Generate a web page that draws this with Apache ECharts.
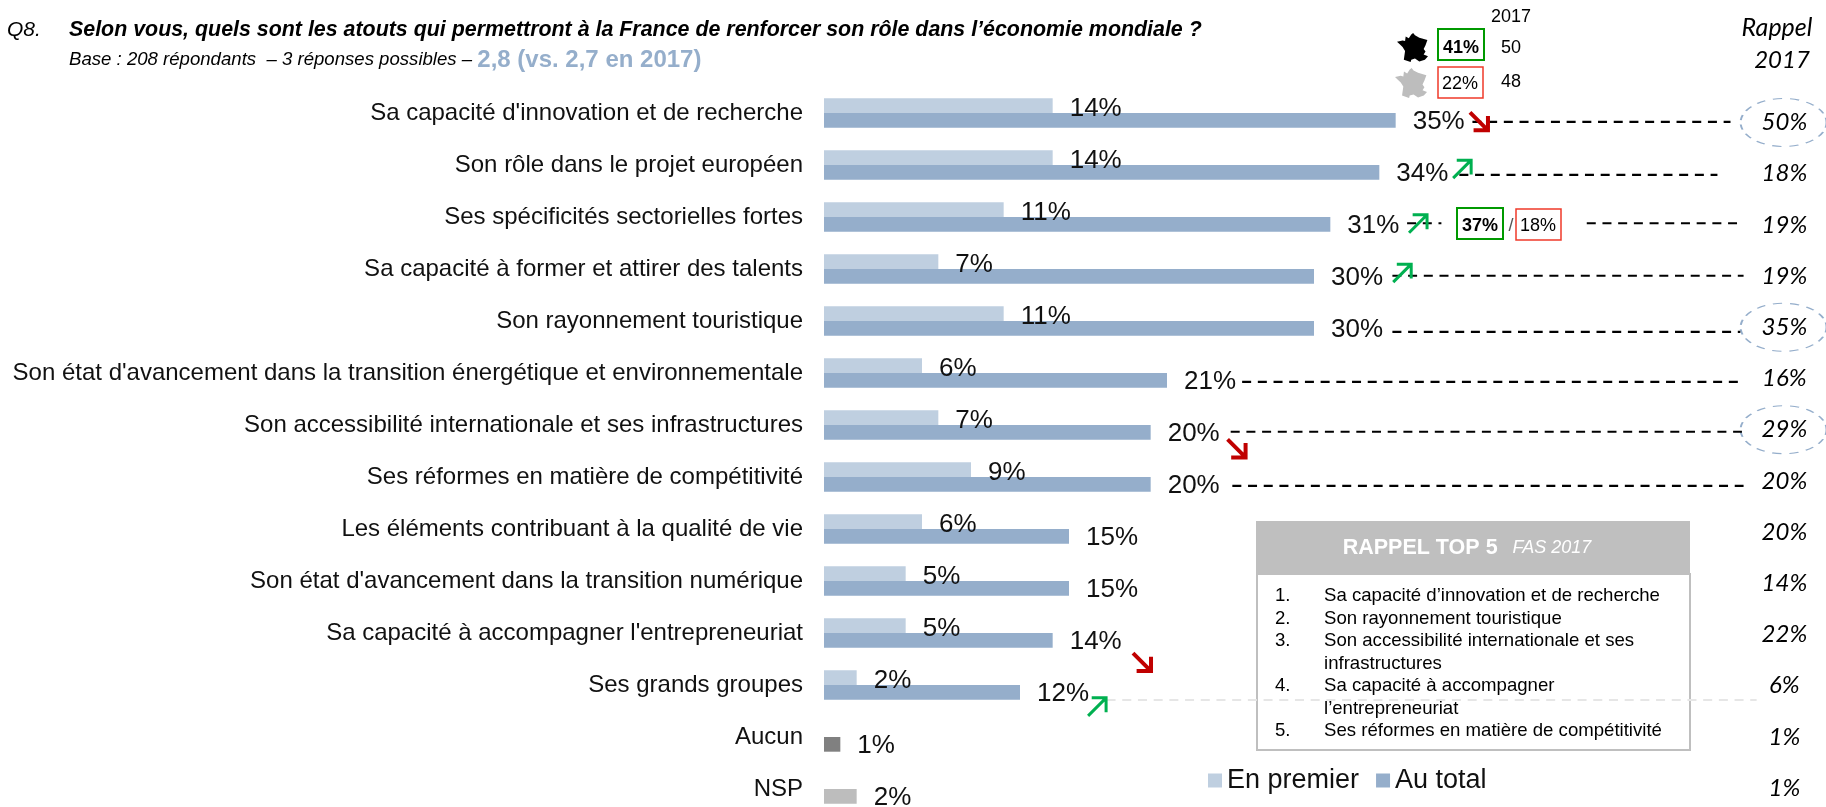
<!DOCTYPE html>
<html><head><meta charset="utf-8">
<style>html,body{margin:0;padding:0;background:#fff}#c{width:1826px;height:807px}</style>
<script src="https://cdn.jsdelivr.net/npm/echarts@6/dist/echarts.min.js"></script>
</head><body><div id="c"></div>
<script>
const categories = ["Sa capacité d'innovation et de recherche","Son rôle dans le projet européen","Ses spécificités sectorielles fortes","Sa capacité à former et attirer des talents","Son rayonnement touristique","Son état d'avancement dans la transition énergétique et environnementale","Son accessibilité internationale et ses infrastructures","Ses réformes en matière de compétitivité","Les éléments contribuant à la qualité de vie","Son état d'avancement dans la transition numérique","Sa capacité à accompagner l'entrepreneuriat","Ses grands groupes","Aucun","NSP"];
const enPremier = [14,14,11,7,11,6,7,9,6,5,5,2,null,null];
const auTotal = [35,34,31,30,30,21,20,20,15,15,14,12,1,2];
const rappel2017 = [50,18,19,19,35,16,29,20,20,14,22,6,1,1];
const rappelCircled = [0,4,6];
const rappelColumn = 58.8;
const circleColumn = 58.75;
// leader lines : [from %, to %, row position]
const leaders = [[39.7,55.5,0.17],[38.9,54.7,1.19],[35.7,37.8,2.12],[46.7,55.9,2.12],[34.8,56.3,3.13],[34.8,56.1,4.21],[25.6,56.0,5.17],[24.9,56.2,6.13],[25.0,56.3,7.17]];
const faintLeader = [17.3,57.1,11.29];
const arrowsUp = [[39.07,1.08],[36.37,2.13],[35.4,3.08],[16.72,11.42]];
const arrowsDown = [[40.1,0.16],[25.26,6.45],[19.47,10.56]];
const top5 = [["1.","Sa capacité d’innovation et de recherche"],["2.","Son rayonnement touristique"],["3.","Son accessibilité internationale et ses"],["","infrastructures"],["4.","Sa capacité à accompagner"],["","l’entrepreneuriat"],["5.","Ses réformes en matière de compétitivité"]];

const FONT = '"Liberation Sans", Arial, sans-serif';
const LIGHT = '#BFCFE0', DARK = '#95AECB', RED = '#C00000', GREEN = '#00B050';
const specialColors = {12:'#808080',13:'#BDBDBD'};
const franceOutline = [[0,30],[18,26],[26,28],[28,12],[38,18],[46,5],[52,0],[58,8],[72,16],[98,24],[92,42],[86,55],[92,64],[86,74],[100,80],[90,92],[72,98],[58,88],[46,92],[44,100],[22,92],[26,62],[18,48],[8,38]];
const upPath = 'path://M0 20L20 0M4 0L20 0L20 16';
const downPath = 'path://M0 0L20 20M4 20L20 20L20 4';

function leaderData(list){const out=[];list.forEach((l,i)=>{if(i)out.push([null,null]);out.push([l[0],l[2]],[l[1],l[2]]);});return out;}
function txt(x,y,text,font,fill,align){return {type:'text',style:{x,y,text,font:font+' '+FONT,fill:fill||'#000',align:align||'left',verticalAlign:'middle'}};}
function box(x,y,w,h,color,lw){return {type:'rect',shape:{x,y,width:w,height:h},style:{fill:'#fff',stroke:color,lineWidth:lw}};}
function fr(x,y,w,h,color){return {type:'polygon',shape:{points:franceOutline.map(p=>[x+p[0]*w/100,y+p[1]*h/100])},style:{fill:color}};}

const graphics = [
  txt(7,30,'Q8.','italic 21px'),
  txt(69,30,'Selon vous, quels sont les atouts qui permettront à la France de renforcer son rôle dans l’économie mondiale ?','italic bold 21.4px'),
  {type:'text',style:{x:69,y:60,verticalAlign:'middle',text:'{a|Base : 208 répondants  – 3 réponses possibles – }{b|2,8 (vs. 2,7 en 2017)}',rich:{a:{font:'italic 18.6px '+FONT,fill:'#000'},b:{font:'bold 24px '+FONT,fill:DARK}}}},
  fr(1397,33,31,29,'#000'),fr(1395,68,32,30,'#BDBDBD'),
  box(1438,29,46,31,'#009900',2),box(1438,67,45,31,'#F03A2A',1.5),
  txt(1461,48,'41%','bold 18px','#000','center'),txt(1460,84,'22%','18px','#000','center'),
  txt(1511,17,'2017','18px','#000','center'),txt(1511,48,'50','18px','#000','center'),txt(1511,82,'48','18px','#000','center'),
  box(1457,208,46,31,'#009900',2),box(1516,209,45,31,'#F03A2A',1.5),
  txt(1480,226,'37%','bold 18px','#000','center'),txt(1538,226,'18%','18px','#000','center'),txt(1511,226,'/','18px','#555','center'),
  {type:'text',style:{x:1777,y:28,text:'Rappel',font:'italic 25px Lato',fill:'#000',align:'center',verticalAlign:'middle'}},
  {type:'text',style:{x:1782,y:60,text:'2017',font:'italic 24px Lato',fill:'#000',align:'center',verticalAlign:'middle'}},
  {type:'rect',shape:{x:1256,y:521,width:434,height:53},style:{fill:'#BFBFBF'}},
  {type:'rect',shape:{x:1257,y:574,width:433,height:176},style:{fill:'#fff',stroke:'#BFBFBF',lineWidth:2}},
  {type:'text',style:{x:1467,y:548,align:'center',verticalAlign:'middle',text:'{a|RAPPEL TOP 5}{b|   FAS 2017}',rich:{a:{font:'bold 21.5px '+FONT,fill:'#fff'},b:{font:'italic 18px '+FONT,fill:'#fff'}}}}
];
top5.forEach((r,i)=>{
  const y=596+i*22.5;
  if(r[0])graphics.push(txt(1275,y,r[0],'18.6px'));
  graphics.push(txt(1324,y,r[1],'18.6px'));
});

const labelStyle={show:true,position:'right',distance:17,fontFamily:FONT,fontSize:26,color:'#111',formatter:p=>p.value+'%'};

const option={
  animation:false,
  backgroundColor:'#fff',
  textStyle:{fontFamily:FONT},
  legend:{left:1208,top:767,padding:0,itemWidth:14,itemHeight:14,itemGap:17,icon:'rect',data:['En premier','Au total'],textStyle:{fontFamily:FONT,fontSize:27,color:'#111'},selectedMode:false},
  grid:[{left:824,top:87,width:980,height:728,outerBoundsMode:'none'},{left:824,top:96.9,width:980,height:716.8,outerBoundsMode:'none'}],
  xAxis:[{gridIndex:0,type:'value',min:0,max:60,show:false},{gridIndex:1,type:'value',min:0,max:60,show:false}],
  yAxis:[
    {gridIndex:0,type:'category',inverse:true,data:categories,axisLine:{show:false},axisTick:{show:false},axisLabel:{margin:21,fontFamily:FONT,fontSize:24,color:'#111'}},
    {gridIndex:0,type:'value',inverse:true,min:-0.5,max:13.5,show:false},
    {gridIndex:1,type:'category',inverse:true,data:categories,show:false}
  ],
  graphic:{elements:graphics},
  series:[
    {name:'En premier',type:'bar',xAxisIndex:0,yAxisIndex:0,barWidth:14.7,barGap:'0%',data:enPremier,itemStyle:{color:LIGHT},label:Object.assign({},labelStyle,{offset:[0,3]})},
    {name:'Au total',type:'bar',xAxisIndex:0,yAxisIndex:0,barWidth:14.7,barGap:'0%',
      data:auTotal.map((v,i)=>specialColors[i]?{value:v,itemStyle:{color:specialColors[i]}}:v),itemStyle:{color:DARK},label:Object.assign({},labelStyle,{offset:[0,1]})},
    {name:'leaders',type:'line',xAxisIndex:0,yAxisIndex:1,data:leaderData(leaders),connectNulls:false,showSymbol:false,symbol:'none',lineStyle:{color:'#000',width:2.2,type:[9,6.7]},silent:true},
    {name:'faint',type:'line',xAxisIndex:0,yAxisIndex:1,data:[[faintLeader[0],faintLeader[2]],[faintLeader[1],faintLeader[2]]],showSymbol:false,symbol:'none',lineStyle:{color:'#E6E6E6',width:2,type:[9,6.7]},silent:true},
    {name:'up',type:'scatter',xAxisIndex:0,yAxisIndex:1,data:arrowsUp,symbol:upPath,symbolSize:18,itemStyle:{color:'none',borderColor:GREEN,borderWidth:3,opacity:1},silent:true,z:5},
    {name:'down',type:'scatter',xAxisIndex:0,yAxisIndex:1,data:arrowsDown,symbol:downPath,symbolSize:18,itemStyle:{color:'none',borderColor:RED,borderWidth:4,opacity:1},silent:true,z:5},
    {name:'rappel',type:'scatter',xAxisIndex:1,yAxisIndex:2,data:rappel2017.map((v,i)=>[rappelColumn,i,v]),symbolSize:1,itemStyle:{color:'transparent',opacity:1},silent:true,
      label:{show:true,position:'inside',fontFamily:'Lato',fontStyle:'italic',fontSize:24,color:'#000',formatter:p=>p.value[2]+'%'}},
    {name:'circled',type:'scatter',xAxisIndex:1,yAxisIndex:2,data:rappelCircled.map(i=>[circleColumn,i]),symbol:'circle',symbolSize:[86,48],
      itemStyle:{color:'none',borderColor:DARK,borderWidth:1.5,borderType:[7,6],opacity:1},silent:true}
  ]
};
echarts.init(document.getElementById('c'),null,{renderer:'canvas'}).setOption(option);
</script></body></html>
